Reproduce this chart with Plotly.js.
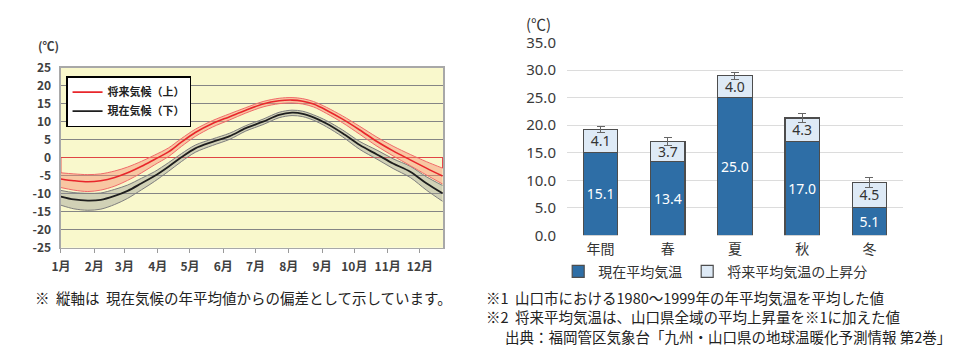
<!DOCTYPE html>
<html>
<head>
<meta charset="utf-8">
<script src="https://cdn.plot.ly/plotly-3.0.1.min.js"></script>
<style>
html,body{margin:0;padding:0;background:#fff;}
#chart{width:960px;height:354px;}
</style>
</head>
<body>
<div id="chart"></div>
<script>
// ---------- Left chart data (deviation from present annual mean, °C) ----------
const days = [0,12,25,37,50,62,75,87,100,112,125,141,157,172,188,203,215,225,235,247,262,278,294,309,325,340,355];
const futureMid   = [-5.9,-6.4,-6.7,-6.4,-5.5,-4.2,-2.4,-0.5,1.6,4.3,7.0,9.5,11.4,13.2,14.9,15.8,16.0,15.7,14.9,13.2,10.7,7.7,4.5,1.9,-0.6,-2.9,-5.1];
const futureUpper = [-4.2,-4.5,-4.7,-4.5,-3.7,-2.6,-1.0,0.7,2.7,5.3,7.9,10.3,12.2,13.9,15.6,16.5,16.7,16.4,15.6,14.0,11.6,8.7,5.7,3.2,0.9,-1.1,-2.9];
const futureLower = [-8.3,-9.0,-9.4,-9.0,-7.9,-6.3,-4.2,-2.0,0.3,3.1,5.9,8.5,10.5,12.4,14.1,15.0,15.2,14.9,14.1,12.3,9.7,6.5,3.2,0.5,-2.2,-4.8,-7.3];
const presentMid   = [-10.8,-11.6,-11.9,-11.7,-10.6,-9.2,-7.1,-5.1,-2.5,0.1,2.6,4.4,6.0,8.2,10.0,11.9,12.5,12.2,11.2,9.5,6.8,3.5,0.9,-1.6,-3.9,-7.1,-9.9];
const presentUpper = [-9.1,-9.7,-9.9,-9.8,-8.8,-7.6,-5.7,-3.9,-1.4,1.1,3.5,5.2,6.8,8.9,10.7,12.6,13.2,12.9,11.9,10.3,7.7,4.5,2.1,-0.3,-2.4,-5.3,-7.7];
const presentLower = [-13.2,-14.2,-14.6,-14.3,-13.0,-11.3,-8.9,-6.6,-3.8,-1.1,1.5,3.4,5.1,7.4,9.2,11.1,11.7,11.4,10.4,8.6,5.8,2.3,-0.4,-3.0,-5.5,-9.0,-12.1];
const monthStarts = [0,31,59,90,120,151,181,212,243,273,304,334];
const monthLabels = ['1月','2月','3月','4月','5月','6月','7月','8月','9月','10月','11月','12月'];
const leftYTicks = [25,20,15,10,5,0,-5,-10,-15,-20,-25];
const leftYLabels = ['25','20','15','10','5','0','-5','-10','-15','-20','-25'];
const seriesNames = ['将来気候（上）','現在気候（下）'];

// ---------- Right chart data ----------
const seasons = ['年間','春','夏','秋','冬'];
const currentTemp = [15.1,13.4,25.0,17.0,5.1];
const riseTemp = [4.1,3.7,4.0,4.3,4.5];
const riseErr = [0.5,0.7,0.6,0.8,0.9];
const barNames = ['現在平均気温','将来平均気温の上昇分'];

const JP = '"Noto Sans CJK JP","Noto Sans",sans-serif';

const sp = {shape:'spline', smoothing:0.9};
const traces = [
  {x:days, y:presentLower, mode:'lines', line:Object.assign({color:'#7d7d7d', width:1}, sp), showlegend:false, hoverinfo:'skip'},
  {x:days, y:presentUpper, mode:'lines', line:Object.assign({color:'#7d7d7d', width:1}, sp), fill:'tonexty', fillcolor:'rgba(150,150,150,0.40)', showlegend:false, hoverinfo:'skip'},
  {x:days, y:futureLower, mode:'lines', line:Object.assign({color:'#f06a6a', width:1}, sp), showlegend:false, hoverinfo:'skip'},
  {x:days, y:futureUpper, mode:'lines', line:Object.assign({color:'#f06a6a', width:1}, sp), fill:'tonexty', fillcolor:'rgba(246,140,110,0.45)', showlegend:false, hoverinfo:'skip'},
  {x:days, y:presentMid, mode:'lines', name:seriesNames[1], line:Object.assign({color:'#1e1e1e', width:1.8}, sp)},
  {x:days, y:futureMid, mode:'lines', name:seriesNames[0], line:Object.assign({color:'#e8262b', width:1.6}, sp)},
  {x:[days[0],days[0]], y:[0,futureUpper[0]], mode:'lines', line:{color:'#e8494c', width:1}, showlegend:false, hoverinfo:'skip'},
  {x:[days[days.length-1],days[days.length-1]], y:[0,futureUpper[futureUpper.length-1]], mode:'lines', line:{color:'#e8494c', width:1}, showlegend:false, hoverinfo:'skip'},
  // right chart
  {type:'bar', x:seasons, y:currentTemp, xaxis:'x2', yaxis:'y2', name:barNames[0], legend:'legend2',
   marker:{color:'#2e6ea6', line:{color:'#4d4d4d', width:1.2}}, width:0.51,
   text:currentTemp.map(v=>v.toFixed(1)), textposition:'inside', insidetextanchor:'middle', constraintext:'none', textangle:0,
   textfont:{color:'#ffffff', size:14, family:'"Noto Sans",sans-serif'}},
  {type:'bar', x:seasons, y:riseTemp, xaxis:'x2', yaxis:'y2', name:barNames[1], legend:'legend2',
   marker:{color:'#deeaf6', line:{color:'#4d4d4d', width:1.2}}, width:0.51,
   text:riseTemp.map(v=>v.toFixed(1)), textposition:'inside', insidetextanchor:'middle', constraintext:'none', textangle:0,
   textfont:{color:'#333333', size:14, family:'"Noto Sans",sans-serif'},
   error_y:{type:'data', array:riseErr, visible:true, color:'#666666', thickness:1, width:4}}
];

const layout = {
  width:960, height:354,
  margin:{l:0,r:0,t:0,b:0},
  paper_bgcolor:'#ffffff', plot_bgcolor:'rgba(0,0,0,0)',
  barmode:'stack',
  font:{family:JP, color:'#333'},
  xaxis:{domain:[0.0635,0.4615], range:[0,355.5], tickvals:monthStarts, ticktext:monthLabels,
    ticks:'outside', ticklen:4, tickcolor:'#9a9a9a', showgrid:false, zeroline:false,
    showline:true, linecolor:'#a8a8a8', linewidth:1.5, mirror:true, ticklabelstandoff:3,
    tickfont:{size:12, color:'#404040', family:JP, weight:'bold'}},
  yaxis:{domain:[0.3003,0.8088], range:[-25,25], tickvals:leftYTicks, ticktext:leftYLabels,
    showgrid:true, gridcolor:'#858585', gridwidth:1.3, zeroline:true, zerolinecolor:'#e04545', zerolinewidth:1.2,
    showline:true, linecolor:'#a8a8a8', linewidth:1.5, mirror:true, ticks:'', ticklabelstandoff:6,
    tickfont:{size:12, color:'#404040', family:JP, weight:'bold'}},
  xaxis2:{domain:[0.5906,0.9406], anchor:'y2', showgrid:false, zeroline:false, showline:false, ticks:'',
    tickfont:{size:14, color:'#333', family:JP}, ticklabelstandoff:4},
  yaxis2:{domain:[0.3353,0.8794], anchor:'x2', range:[0,35], dtick:5, tickformat:'.1f',
    showgrid:true, gridcolor:'#dcdcdc', gridwidth:1.2, zeroline:false, showline:false, ticks:'',
    ticklabelstandoff:10, tickfont:{size:15, color:'#3a3a3a', family:'"Noto Sans",sans-serif'}},
  legend:{x:0.0688, y:0.785, xanchor:'left', yanchor:'top', bgcolor:'#ffffff', bordercolor:'#000', borderwidth:1.5,
    font:{size:11, color:'#222', family:JP, weight:'bold'}, itemwidth:30, tracegroupgap:0, traceorder:'reversed'},
  legend2:{orientation:'h', x:0.745, xanchor:'center', y:0.232, yanchor:'middle', bgcolor:'rgba(0,0,0,0)',
    font:{size:14, color:'#333', family:JP}, itemwidth:30, traceorder:'normal'},
  shapes:[{type:'rect', xref:'x domain', yref:'y domain', x0:0, x1:1, y0:0, y1:1, layer:'below',
    fillcolor:'#f9f8cc', line:{width:0}}],
  annotations:[
    {text:'(℃)', xref:'paper', yref:'paper', x:48/960, y:(354-45)/354, xanchor:'center', yanchor:'middle', showarrow:false,
     font:{size:12, color:'#404040', family:JP, weight:'bold'}},
    {text:'(℃)', xref:'paper', yref:'paper', x:538/960, y:(354-23)/354, xanchor:'center', yanchor:'middle', showarrow:false,
     font:{size:15, color:'#333', family:JP}},
    {text:'※  縦軸は  現在気候の年平均値からの偏差として示しています。', xref:'paper', yref:'paper', x:33/960, y:(354-297)/354,
     xanchor:'left', yanchor:'middle', showarrow:false, font:{size:14.5, color:'#222', family:JP}},
    {text:'※1  山口市における1980～1999年の年平均気温を平均した値', xref:'paper', yref:'paper', x:484/960, y:(354-297)/354,
     xanchor:'left', yanchor:'middle', showarrow:false, font:{size:14.5, color:'#222', family:JP}},
    {text:'※2  将来平均気温は、山口県全域の平均上昇量を※1に加えた値', xref:'paper', yref:'paper', x:484/960, y:(354-316)/354,
     xanchor:'left', yanchor:'middle', showarrow:false, font:{size:14.5, color:'#222', family:JP}},
    {text:'出典：福岡管区気象台「九州・山口県の地球温暖化予測情報 第2巻」', xref:'paper', yref:'paper', x:503/960, y:(354-336)/354,
     xanchor:'left', yanchor:'middle', showarrow:false, font:{size:14.5, color:'#222', family:JP}}
  ]
};

Plotly.newPlot('chart', traces, layout, {staticPlot:true, displayModeBar:false});
</script>
</body>
</html>
